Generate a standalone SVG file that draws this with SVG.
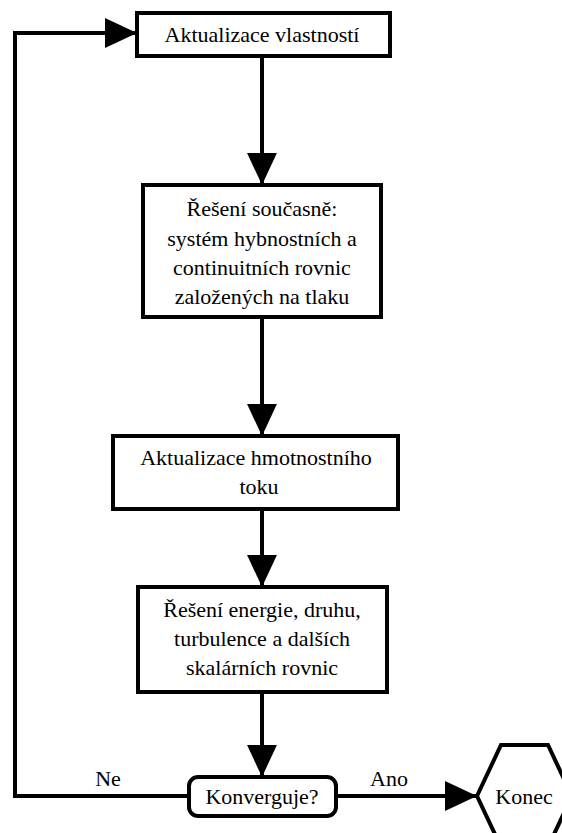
<svg xmlns="http://www.w3.org/2000/svg" width="562" height="833" viewBox="0 0 562 833">
<style>
.box{fill:#fff;stroke:#000;stroke-width:4}
.ln{fill:none;stroke:#000;stroke-width:4}
.t{font-size:22px;fill:#000;text-anchor:middle}
</style>
<defs>
<marker id="ah" markerUnits="userSpaceOnUse" markerWidth="32" markerHeight="30" viewBox="0 0 30 28" refX="30" refY="14" orient="auto">
<polygon points="0,0 30,14 0,28"/>
</marker>
</defs>
<rect width="562" height="833" fill="#fff"/>
<g id="connectors">
<path class="ln" d="M262,57 V185" marker-end="url(#ah)"/>
<path class="ln" d="M262,317 V436" marker-end="url(#ah)"/>
<path class="ln" d="M262,509 V587" marker-end="url(#ah)"/>
<path class="ln" d="M262,692 V777" marker-end="url(#ah)"/>
<path class="ln" d="M189,796 H15 V33 H137" marker-end="url(#ah)"/>
<path class="ln" d="M336,796 H477" marker-end="url(#ah)"/>
<text class="t" font-family="Liberation Serif" x="108" y="786">Ne</text>
<text class="t" font-family="Liberation Serif" x="389" y="786">Ano</text>
</g>
<g id="n1">
<rect class="box" x="137" y="13" width="253" height="43"/>
<text class="t" font-family="Liberation Serif" x="262" y="42">Aktualizace vlastností</text>
</g>
<g id="n2">
<rect class="box" x="143" y="185" width="238" height="132"/>
<text class="t" font-family="Liberation Serif" x="262" y="216">Řešení současně:</text>
<text class="t" font-family="Liberation Serif" x="262" y="246">systém hybnostních a</text>
<text class="t" font-family="Liberation Serif" x="262" y="275">continuitních rovnic</text>
<text class="t" font-family="Liberation Serif" x="262" y="304">založených na tlaku</text>
</g>
<g id="n3">
<rect class="box" x="113" y="436" width="285" height="73"/>
<text class="t" font-family="Liberation Serif" x="256" y="465">Aktualizace hmotnostního</text>
<text class="t" font-family="Liberation Serif" x="259" y="494">toku</text>
</g>
<g id="n4">
<rect class="box" x="138" y="587" width="249" height="105"/>
<text class="t" font-family="Liberation Serif" x="262" y="617">Řešení energie, druhu,</text>
<text class="t" font-family="Liberation Serif" x="262" y="646">turbulence a dalších</text>
<text class="t" font-family="Liberation Serif" x="262" y="675">skalárních rovnic</text>
</g>
<g id="n5">
<rect class="box" x="189" y="777" width="147" height="39" rx="9"/>
<text class="t" font-family="Liberation Serif" x="262" y="804">Konverguje?</text>
</g>
<g id="n6">
<polygon class="box" points="477,796 501,745 548,745 572,796 548,847 501,847"/>
<text class="t" font-family="Liberation Serif" x="524" y="804">Konec</text>
</g>
</svg>
